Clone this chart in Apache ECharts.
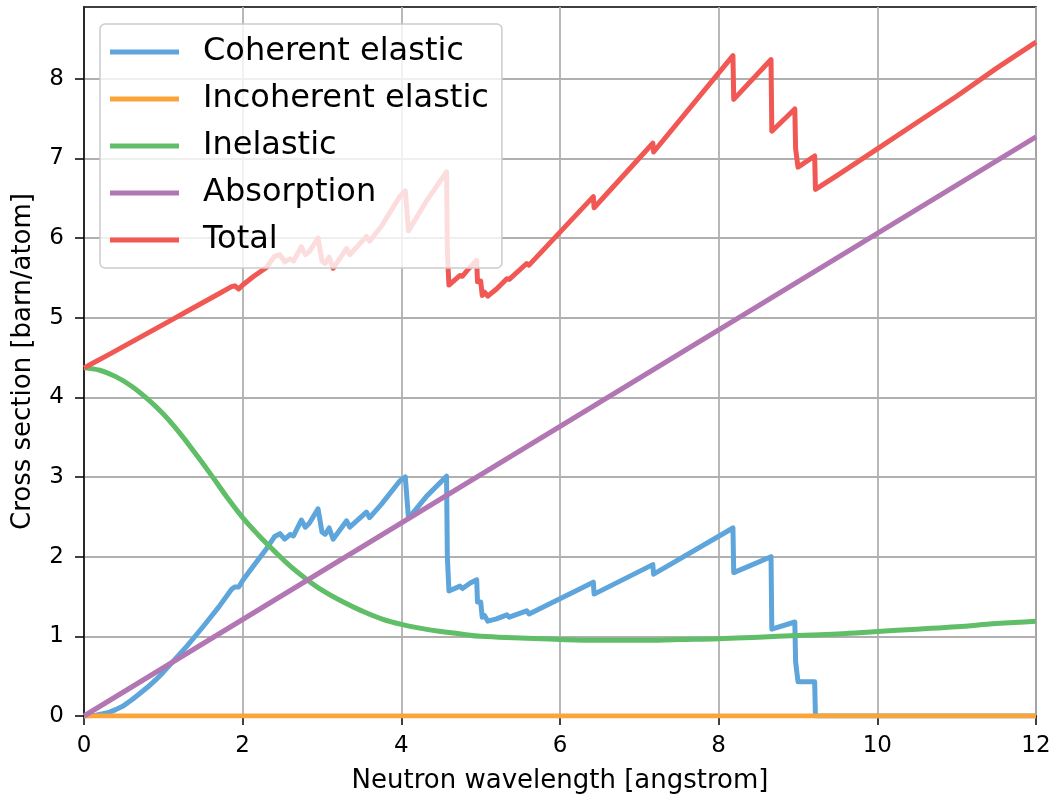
<!DOCTYPE html>
<html>
<head>
<meta charset="utf-8">
<script src="https://cdn.jsdelivr.net/npm/echarts@6/dist/echarts.min.js"></script>
<style>
  html, body { margin: 0; padding: 0; background: #fff; }
  #chart { width: 1055px; height: 799px; }
</style>
</head>
<body>
<div id="chart"></div>
<script>
// ---- data ----
const seriesNames = ['Coherent elastic', 'Incoherent elastic', 'Inelastic', 'Absorption', 'Total'];

const coherentElastic = [
  [0,0],[0.15,0.01],[0.3,0.04],[0.4,0.08],[0.5,0.13],[0.6,0.2],[0.7,0.28],[0.8,0.36],[0.9,0.45],[1.0,0.55],[1.1,0.66],[1.3,0.88],
  [1.5,1.12],[1.7,1.37],[1.86,1.59],[1.9,1.62],[1.95,1.62],[2.0,1.70],[2.14,1.89],
  [2.3,2.10],[2.4,2.25],[2.47,2.29],[2.53,2.22],[2.6,2.28],[2.64,2.26],[2.74,2.46],
  [2.79,2.37],[2.84,2.42],[2.95,2.60],[3.0,2.31],[3.04,2.28],[3.09,2.36],[3.14,2.22],
  [3.31,2.45],[3.35,2.37],[3.56,2.56],[3.6,2.49],[3.75,2.66],[3.98,2.95],[4.05,3.0],
  [4.09,2.48],[4.32,2.76],[4.57,3.01],[4.58,2.0],[4.6,1.57],[4.74,1.63],[4.77,1.60],
  [4.87,1.67],[4.95,1.71],[4.96,1.43],[5.0,1.43],[5.02,1.24],[5.05,1.26],[5.09,1.19],
  [5.2,1.22],[5.33,1.27],[5.36,1.24],[5.58,1.32],[5.61,1.28],[6.42,1.68],[6.43,1.53],
  [7.17,1.90],[7.18,1.78],[8.18,2.36],[8.19,1.80],[8.66,2.00],[8.67,1.09],[8.96,1.18],
  [8.97,0.68],[8.99,0.66],[9.0,0.43],[9.21,0.43],[9.22,0],[12,0]
];

const incoherentElastic = [[0,0],[12,0]];

const inelastic = [
  [0,4.37],[0.2,4.34],[0.4,4.26],[0.6,4.14],[0.8,3.98],[1.0,3.79],[1.2,3.56],[1.4,3.30],
  [1.6,3.03],[1.8,2.75],[2.0,2.49],[2.2,2.27],[2.4,2.07],[2.6,1.88],[2.8,1.72],[3.0,1.58],
  [3.25,1.44],[3.5,1.32],[3.75,1.22],[4.0,1.15],[4.25,1.10],[4.5,1.06],[4.75,1.03],
  [5.0,1.00],[5.5,0.98],[6.0,0.96],[6.5,0.95],[7.0,0.95],[7.5,0.96],[8.0,0.97],[8.5,0.99],
  [9.0,1.01],[9.5,1.03],[10,1.06],[10.5,1.09],[11,1.12],[11.5,1.16],[12,1.19]
];

const absorption = [[0,0],[12,7.27]];

const total = [
  [0,4.37],[0.15,4.45],[0.3,4.53],[0.5,4.64],[0.7,4.75],[0.9,4.86],[1.1,4.97],[1.3,5.08],
  [1.5,5.19],[1.7,5.30],[1.86,5.39],[1.9,5.40],[1.95,5.36],[2.0,5.41],[2.14,5.52],
  [2.3,5.63],[2.4,5.77],[2.47,5.79],[2.53,5.70],[2.6,5.74],[2.64,5.71],[2.74,5.89],
  [2.79,5.79],[2.84,5.83],[2.95,6.00],[3.0,5.71],[3.04,5.68],[3.09,5.76],[3.14,5.62],
  [3.31,5.87],[3.35,5.79],[3.56,6.02],[3.6,5.96],[3.75,6.15],[3.98,6.52],[4.05,6.59],
  [4.09,6.09],[4.32,6.47],[4.57,6.83],[4.58,5.83],[4.6,5.41],[4.74,5.53],[4.77,5.52],
  [4.87,5.64],[4.95,5.72],[4.96,5.45],[5.0,5.46],[5.02,5.28],[5.05,5.32],[5.09,5.27],
  [5.2,5.36],[5.33,5.49],[5.36,5.48],[5.58,5.68],[5.61,5.66],[6.42,6.52],[6.43,6.38],
  [7.17,7.19],[7.18,7.08],[8.18,8.29],[8.19,7.74],[8.66,8.24],[8.67,7.34],[8.96,7.62],
  [8.97,7.12],[8.99,7.12],[9.0,6.89],[9.21,7.03],[9.22,6.61],[9.5,6.79],[10,7.12],
  [10.5,7.45],[11,7.78],[11.5,8.13],[12,8.46]
];

const xTicks = [0, 2, 4, 6, 8, 10, 12];
const yTicks = [0, 1, 2, 3, 4, 5, 6, 7, 8];

// ---- chart ----
const colors = ['#5DA5DA', '#FAA43A', '#60BD68', '#B276B2', '#F15854'];
const dataSets = [coherentElastic, incoherentElastic, inelastic, absorption, total];
const smoothFlags = [false, false, 0.4, false, false];
const FONT = 'DejaVu Sans';

const chart = echarts.init(document.getElementById('chart'), null, { renderer: 'canvas' });

chart.setOption({
  animation: false,
  backgroundColor: '#ffffff',
  textStyle: { fontFamily: FONT },
  grid: {
    left: 84, right: 19, top: 7, bottom: 82,
    show: true, borderColor: '#000', borderWidth: 1.5, backgroundColor: 'transparent'
  },
  legend: {
    orient: 'vertical',
    left: 100, top: 24,
    data: seriesNames,
    icon: 'rect',
    itemWidth: 69, itemHeight: 5,
    itemGap: 11,
    padding: [10, 13, 10, 10],
    backgroundColor: 'rgba(255,255,255,0.8)',
    borderColor: '#cccccc', borderWidth: 1.5, borderRadius: 5,
    textStyle: { fontFamily: FONT, fontSize: 32, color: '#000', lineHeight: 36, padding: [0, 0, 0, 19] }
  },
  xAxis: {
    type: 'value', min: 0, max: 12, interval: 2,
    name: 'Neutron wavelength [angstrom]', nameLocation: 'middle', nameGap: 52,
    nameTextStyle: { fontFamily: FONT, fontSize: 26, color: '#000' },
    axisLine: { show: true, lineStyle: { color: '#000', width: 1.5 } },
    axisTick: { show: true, length: 9, lineStyle: { color: '#000', width: 1.5 }, customValues: xTicks },
    axisLabel: { fontFamily: FONT, fontSize: 23, color: '#000', margin: 19, customValues: xTicks },
    splitLine: { show: true, lineStyle: { color: '#b0b0b0', width: 1.8 } }
  },
  yAxis: {
    type: 'value', min: 0, max: 8.9, interval: 1,
    name: 'Cross section [barn/atom]', nameLocation: 'middle', nameGap: 48, nameRotate: 90,
    nameTextStyle: { fontFamily: FONT, fontSize: 26, color: '#000' },
    axisLine: { show: true, lineStyle: { color: '#000', width: 1.5 } },
    axisTick: { show: true, length: 9, lineStyle: { color: '#000', width: 1.5 }, customValues: yTicks },
    axisLabel: { fontFamily: FONT, fontSize: 23, color: '#000', margin: 20, customValues: yTicks },
    splitLine: { show: true, lineStyle: { color: '#b0b0b0', width: 1.8 } }
  },
  series: seriesNames.map((name, i) => ({
    name: name,
    type: 'line',
    data: dataSets[i],
    showSymbol: false,
    symbol: 'none',
    smooth: smoothFlags[i],
    clip: true,
    color: colors[i],
    lineStyle: { color: colors[i], width: 5, join: 'round' }
  }))
});
</script>
</body>
</html>
